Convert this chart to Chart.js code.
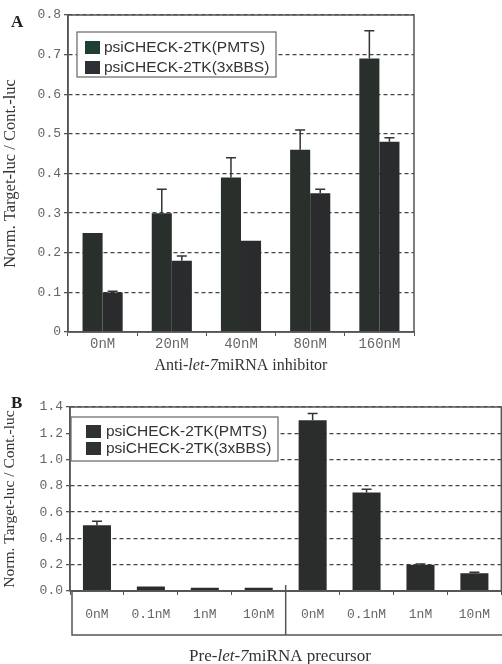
<!DOCTYPE html>
<html>
<head>
<meta charset="utf-8">
<script src="https://cdn.jsdelivr.net/npm/chart.js@4.4.1/dist/chart.umd.min.js"></script>
<style>
  body { margin: 0; background: #fff; }
  #wrap { position: relative; width: 502px; height: 664px; overflow: hidden; }
  canvas { position: absolute; left: 0; }
</style>
</head>
<body>
<div id="wrap">
  <canvas id="chartA" width="502" height="380" style="top:0"></canvas>
  <canvas id="chartB" width="502" height="284" style="top:380px"></canvas>
</div>
<script>
// panel A: anti-let-7 inhibitor
const catsA = ["0nM", "20nM", "40nM", "80nM", "160nM"];
const pmtsA = [0.25, 0.30, 0.39, 0.46, 0.69];
const pmtsErrA = [0, 0.06, 0.05, 0.05, 0.07];
const bbsA = [0.10, 0.18, 0.23, 0.35, 0.48];
const bbsErrA = [0.003, 0.012, 0, 0.01, 0.01];
const yTicksA = ["0", "0.1", "0.2", "0.3", "0.4", "0.5", "0.6", "0.7", "0.8"];

// panel B: pre-let-7 precursor
const catsB = ["0nM", "0.1nM", "1nM", "10nM", "0nM", "0.1nM", "1nM", "10nM"];
const pmtsB = [0.50, 0.035, 0.025, 0.025, null, null, null, null];
const pmtsErrB = [0.03, 0, 0, 0, 0, 0, 0, 0];
const bbsB = [null, null, null, null, 1.30, 0.75, 0.20, 0.135];
const bbsErrB = [0, 0, 0, 0, 0.05, 0.025, 0.005, 0.008];
const yTicksB = ["0.0", "0.2", "0.4", "0.6", "0.8", "1.0", "1.2", "1.4"];

const seriesNames = ["psiCHECK-2TK(PMTS)", "psiCHECK-2TK(3xBBS)"];

const MONO = "'Liberation Mono', 'DejaVu Sans Mono', monospace";
const SERIF = "'Liberation Serif', 'DejaVu Serif', serif";
const SANS = "'Liberation Sans', Arial, sans-serif";

const errorBars = {
	id: "errorBars",
	afterDatasetsDraw(chart) {
		const ctx = chart.ctx;
		const y = chart.scales.y;
		chart.data.datasets.forEach((ds, di) => {
			if (!ds.errors) return;
			const meta = chart.getDatasetMeta(di);
			meta.data.forEach((bar, i) => {
				const v = ds.data[i];
				const e = ds.errors[i];
				if (v == null || !e) return;
				const top = y.getPixelForValue(v + e);
				ctx.save();
				ctx.strokeStyle = "#333";
				ctx.lineWidth = 1.5;
				ctx.beginPath();
				ctx.moveTo(bar.x, bar.y);
				ctx.lineTo(bar.x, top);
				ctx.moveTo(bar.x - 5, top);
				ctx.lineTo(bar.x + 5, top);
				ctx.stroke();
				ctx.restore();
			});
		});
	},
};

// solid frame, boxed legend, rich x title, panel letter
const decor = {
	id: "decor",
	afterDraw(chart, args, opts) {
		const ctx = chart.ctx;
		const a = chart.chartArea;
		ctx.save();
		ctx.setLineDash([]);
		ctx.strokeStyle = "#555";
		ctx.lineWidth = 1.5;
		ctx.beginPath();
		ctx.moveTo(a.left, a.bottom);
		ctx.lineTo(a.left, a.top);
		ctx.lineTo(a.right, a.top);
		ctx.lineTo(a.right, a.bottom);
		ctx.lineTo(a.left, a.bottom);
		ctx.stroke();

		// category box under axis (panel B)
		if (opts.catBox) {
			const xs = chart.scales.x;
			const b = a.bottom;
			ctx.strokeRect(a.left + 2, b, chart.width + 10, opts.catBox.h);
			const mid = (xs.getPixelForTick(3) + xs.getPixelForTick(4)) / 2;
			ctx.beginPath();
			ctx.moveTo(mid, b - 6);
			ctx.lineTo(mid, b + opts.catBox.h);
			ctx.stroke();
		}

		// legend
		const L = opts.legend;
		ctx.fillStyle = "#fff";
		ctx.fillRect(L.x, L.y, L.w, L.h);
		ctx.strokeStyle = "#666";
		ctx.lineWidth = 1.2;
		ctx.strokeRect(L.x, L.y, L.w, L.h);
		ctx.font = L.size + "px " + SANS;
		ctx.textBaseline = "middle";
		chart.data.datasets.forEach((ds, i) => {
			const cy = L.y + L.rowTop + i * L.rowGap;
			ctx.fillStyle = L.swatches[i];
			ctx.fillRect(L.x + L.sw, cy - 6, 15, 13);
			ctx.fillStyle = "#333";
			ctx.fillText(ds.label, L.x + L.tx, cy + 1);
		});

		// x title with italic part
		const T = opts.xTitle;
		let total = 0;
		T.parts.forEach((p) => {
			ctx.font = (p.italic ? "italic " : "") + T.size + "px " + SERIF;
			total += ctx.measureText(p.text).width;
		});
		let x = T.cx - total / 2;
		ctx.fillStyle = "#333";
		ctx.textBaseline = "middle";
		T.parts.forEach((p) => {
			ctx.font = (p.italic ? "italic " : "") + T.size + "px " + SERIF;
			ctx.fillText(p.text, x, T.cy);
			x += ctx.measureText(p.text).width;
		});

		// panel letter
		ctx.font = "bold 17px " + SERIF;
		ctx.fillStyle = "#222";
		ctx.fillText(opts.letter.text, opts.letter.x, opts.letter.y);
		ctx.restore();
	},
};

function yScale(max, step, labels, titleSize, titleText, yWidth) {
	return {
		min: 0,
		max: max,
		ticks: {
			stepSize: step,
			font: { family: MONO, size: 13 },
			color: "#666",
			padding: 3,
			callback: (v, i) => labels[i],
		},
		grid: {
			color: "#444",
			lineWidth: 1.3,
			tickBorderDash: [0, 0],
			tickLength: 4,
			tickColor: "#555",
		},
		border: { display: true, color: "#555", width: 1.5, dash: [4, 3] },
		title: {
			display: true,
			text: titleText,
			font: { family: SERIF, size: titleSize },
			color: "#333",
			padding: { top: 1, bottom: 0 },
		},
		afterFit: (s) => { s.width = yWidth; },
	};
}

function xScale(size, pad, height) {
	return {
		ticks: {
			font: { family: MONO, size: size },
			color: "#666",
			padding: pad,
			maxRotation: 0,
			autoSkip: false,
		},
		grid: {
			drawOnChartArea: false,
			drawTicks: true,
			tickLength: 4,
			tickColor: "#555",
		},
		border: { display: true, color: "#555", width: 1.5 },
		afterFit: (s) => { s.height = height; },
	};
}

new Chart(document.getElementById("chartA"), {
	type: "bar",
	data: {
		labels: catsA,
		datasets: [
			{
				label: seriesNames[0],
				data: pmtsA,
				errors: pmtsErrA,
				backgroundColor: "#29302c",
				categoryPercentage: 0.58,
				barPercentage: 1,
			},
			{
				label: seriesNames[1],
				data: bbsA,
				errors: bbsErrA,
				backgroundColor: "#2a2b2d",
				categoryPercentage: 0.58,
				barPercentage: 1,
			},
		],
	},
	options: {
		responsive: false,
		animation: false,
		layout: { padding: { top: 15, right: 88, left: 0, bottom: 0 } },
		plugins: {
			legend: { display: false },
			tooltip: { enabled: false },
			decor: {
				legend: { x: 77, y: 32, w: 199, h: 45, rowTop: 15, rowGap: 20, size: 15.5, sw: 8, tx: 27, swatches: ["#1f4030", "#2c3034"] },
				xTitle: { cx: 241, cy: 366, size: 16, parts: [{ text: "Anti-" }, { text: "let-7", italic: true }, { text: "miRNA inhibitor" }] },
				letter: { text: "A", x: 11, y: 23 },
			},
		},
		scales: {
			x: xScale(14, 0, 48),
			y: yScale(0.8, 0.1, yTicksA, 16.5, "Norm. Target-luc / Cont.-luc", 68),
		},
	},
	plugins: [errorBars, decor],
});

new Chart(document.getElementById("chartB"), {
	type: "bar",
	data: {
		labels: catsB,
		datasets: [
			{
				label: seriesNames[0],
				data: pmtsB,
				errors: pmtsErrB,
				backgroundColor: "#2a2d2c",
				grouped: false,
				categoryPercentage: 1,
				barPercentage: 0.52,
			},
			{
				label: seriesNames[1],
				data: bbsB,
				errors: bbsErrB,
				backgroundColor: "#2a2d2c",
				grouped: false,
				categoryPercentage: 1,
				barPercentage: 0.52,
			},
		],
	},
	options: {
		responsive: false,
		animation: false,
		layout: { padding: { top: 27, right: -3, left: 0, bottom: 0 } },
		plugins: {
			legend: { display: false },
			tooltip: { enabled: false },
			decor: {
				catBox: { h: 44 },
				legend: { x: 71, y: 37, w: 207, h: 44, rowTop: 14, rowGap: 17, size: 15.5, sw: 15, tx: 35, swatches: ["#2e3331", "#2e3331"] },
				xTitle: { cx: 280, cy: 277, size: 17, parts: [{ text: "Pre-" }, { text: "let-7", italic: true }, { text: "miRNA precursor" }] },
				letter: { text: "B", x: 11, y: 24 },
			},
		},
		scales: {
			x: xScale(13, 12, 73),
			y: yScale(1.4, 0.2, yTicksB, 15.5, "Norm. Target-luc / Cont.-luc", 70),
		},
	},
	plugins: [errorBars, decor],
});
</script>
</body>
</html>
